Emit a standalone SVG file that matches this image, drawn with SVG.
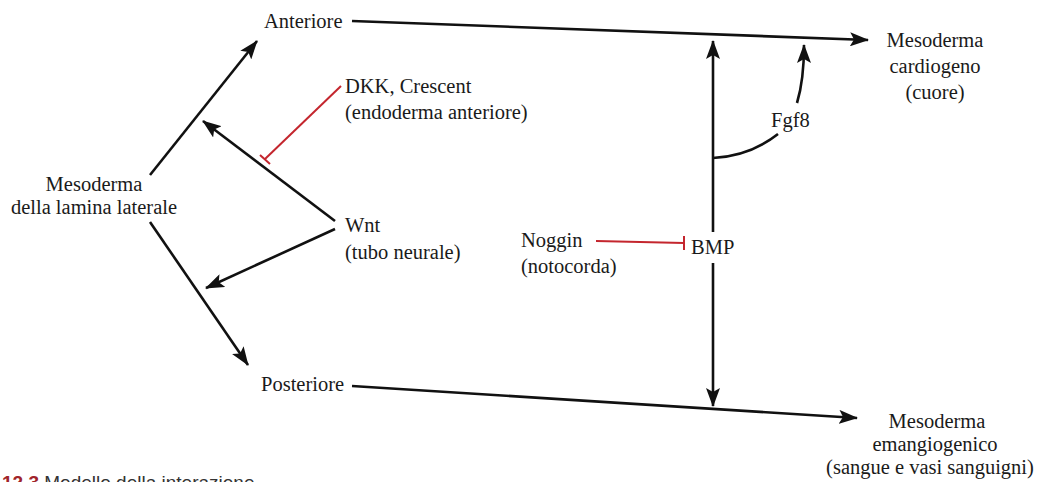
<svg xmlns="http://www.w3.org/2000/svg" width="1037" height="482" viewBox="0 0 1037 482">
<defs>
<style>
text{font-family:"Liberation Serif","Times New Roman",serif;font-size:20.5px;fill:#1a1a1a}
.c{text-anchor:middle}
.k{stroke:#111;stroke-width:2.6;fill:none}
.r{stroke:#c4262e;stroke-width:2;fill:none}
</style>
<marker id="ah" markerWidth="20" markerHeight="14" refX="18" refY="7" orient="auto" markerUnits="userSpaceOnUse">
<path d="M0,0 L19,7 L0,14 L4,7 Z" fill="#111"/>
</marker>
</defs>
<rect width="1037" height="482" fill="#fff"/>
<g id="connectors">
<line class="k" x1="150" y1="175" x2="257" y2="41" marker-end="url(#ah)"/>
<line class="k" x1="150" y1="222" x2="248" y2="365" marker-end="url(#ah)"/>
<line class="k" x1="352" y1="21" x2="868" y2="40" marker-end="url(#ah)"/>
<line class="k" x1="352" y1="386" x2="857" y2="418" marker-end="url(#ah)"/>
<line class="k" x1="335" y1="221" x2="203" y2="121" marker-end="url(#ah)"/>
<line class="k" x1="335" y1="229" x2="206" y2="288" marker-end="url(#ah)"/>
<line class="k" x1="713" y1="232" x2="713" y2="41" marker-end="url(#ah)"/>
<line class="k" x1="713" y1="263" x2="713" y2="406" marker-end="url(#ah)"/>
<path class="k" d="M713,158 Q750,156 778,134"/>
<path class="k" d="M797,103 Q804,80 804,45" marker-end="url(#ah)"/>
<line class="r" x1="341" y1="86" x2="265" y2="159"/>
<line class="r" x1="260" y1="155" x2="270" y2="164"/>
<line class="r" x1="596" y1="241" x2="684" y2="243"/>
<line class="r" x1="684" y1="236" x2="684" y2="250"/>
</g>
<g id="lamina"><text class="c" x="94" y="191">Mesoderma</text><text class="c" x="94" y="214">della lamina laterale</text></g>
<g id="anteriore"><text x="264" y="28">Anteriore</text></g>
<g id="posteriore"><text x="261" y="391">Posteriore</text></g>
<g id="dkk"><text x="345" y="93">DKK, Crescent</text><text x="345" y="119">(endoderma anteriore)</text></g>
<g id="wnt"><text x="345" y="232">Wnt</text><text x="345" y="259">(tubo neurale)</text></g>
<g id="noggin"><text x="521" y="247">Noggin</text><text x="521" y="273">(notocorda)</text></g>
<g id="bmp"><text x="691" y="254">BMP</text></g>
<g id="fgf8"><text x="771" y="127">Fgf8</text></g>
<g id="cardiogeno"><text class="c" x="935" y="47">Mesoderma</text><text class="c" x="935" y="73">cardiogeno</text><text class="c" x="935" y="99">(cuore)</text></g>
<g id="emangiogenico"><text class="c" x="937" y="428">Mesoderma</text><text class="c" x="935" y="451">emangiogenico</text><text class="c" x="930" y="474">(sangue e vasi sanguigni)</text></g>
<text x="2" y="489" style="font-family:'Liberation Sans',Arial,sans-serif;font-size:19px;fill:#333"><tspan style="fill:#a0242a;font-weight:bold">12.3</tspan> Modello della interazione</text>
</svg>
